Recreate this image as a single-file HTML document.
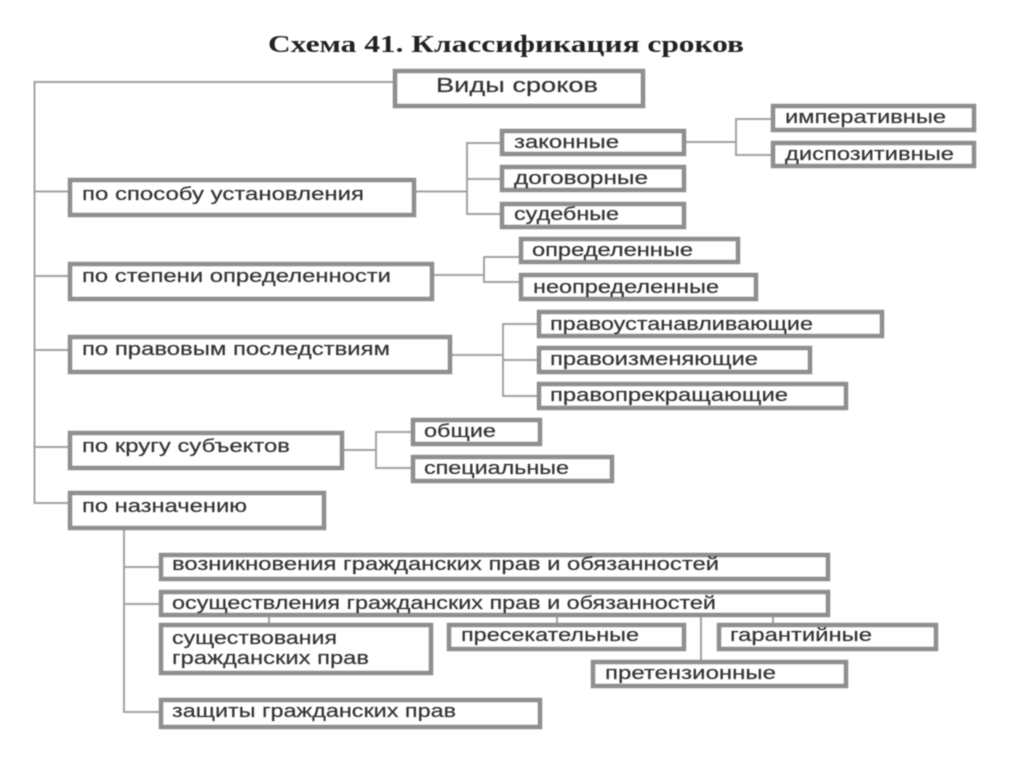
<!DOCTYPE html>
<html lang="ru">
<head>
<meta charset="utf-8">
<title>Схема 41. Классификация сроков</title>
<style>
html,body{margin:0;padding:0;background:#fff;width:1024px;height:767px;overflow:hidden}
svg{display:block}
.b{fill:#fff;stroke:#8f8f8f;stroke-width:4.5}
.c{fill:none;stroke:#a3a3a3;stroke-width:2}
text{font-family:"Liberation Sans",sans-serif;font-size:18px;fill:#333;stroke:#333;stroke-width:.2}
.t{font-family:"Liberation Serif",serif;font-size:24px;font-weight:bold;fill:#222;stroke:none}
</style>
</head>
<body>
<svg width="1024" height="767" viewBox="0 0 1024 767" xmlns="http://www.w3.org/2000/svg">
<g style="filter:blur(.45px)">
<g class="c">
<path d="M393 82H34.500V503H68M34.500 191.500H68M34.500 276H68M34.500 350H68M34.500 447H68"/>
<path d="M416 191.500H467M500 143H467V214H500M467 179H500"/>
<path d="M686 142H736M771 119H736V155H771"/>
<path d="M434 275H484M519 257H484V282H519"/>
<path d="M452 355H503M537 324H503V396H537M503 360H537"/>
<path d="M344 450H376M411 432H376V468H411"/>
<path d="M124 530V712H159M124 567H159M124 604H159"/>
<path d="M269 617V623M557 617V623M773 617V623M701 617V660"/>
</g>
<g class="b">
<rect x="395" y="71" width="248" height="35"/>
<rect x="70" y="180" width="344" height="35"/>
<rect x="70" y="264" width="362" height="35"/>
<rect x="70" y="337" width="380" height="35"/>
<rect x="70" y="433" width="272" height="35"/>
<rect x="70" y="493" width="254" height="35"/>
<rect x="502" y="131" width="182" height="23"/>
<rect x="502" y="167" width="182" height="23"/>
<rect x="502" y="204" width="182" height="23"/>
<rect x="773" y="106" width="201" height="24"/>
<rect x="773" y="143" width="201" height="23"/>
<rect x="521" y="239" width="217" height="23"/>
<rect x="521" y="275" width="235" height="24"/>
<rect x="539" y="312" width="343" height="24"/>
<rect x="539" y="348" width="271" height="24"/>
<rect x="539" y="384" width="307" height="24"/>
<rect x="413" y="420" width="127" height="24"/>
<rect x="413" y="457" width="199" height="24"/>
<rect x="161" y="555" width="667" height="24"/>
<rect x="161" y="592" width="667" height="23"/>
<rect x="161" y="625" width="270" height="48"/>
<rect x="449" y="625" width="235" height="24"/>
<rect x="719" y="625" width="217" height="24"/>
<rect x="593" y="662" width="253" height="24"/>
<rect x="161" y="700" width="379" height="27"/>
</g>
<text class="t" x="268" y="52" textLength="476" lengthAdjust="spacingAndGlyphs">Схема 41. Классификация сроков</text>
<text x="436" y="92" textLength="162" lengthAdjust="spacingAndGlyphs" style="font-size:20px">Виды сроков</text>
<text x="82" y="200" textLength="282" lengthAdjust="spacingAndGlyphs">по способу  установления</text>
<text x="82" y="282" textLength="309" lengthAdjust="spacingAndGlyphs">по степени  определенности</text>
<text x="82" y="355" textLength="308" lengthAdjust="spacingAndGlyphs">по правовым  последствиям</text>
<text x="82" y="452" textLength="208" lengthAdjust="spacingAndGlyphs">по кругу субъектов</text>
<text x="82" y="512" textLength="165" lengthAdjust="spacingAndGlyphs">по назначению</text>
<text x="514" y="148" textLength="105" lengthAdjust="spacingAndGlyphs">законные</text>
<text x="514" y="184" textLength="134" lengthAdjust="spacingAndGlyphs">договорные</text>
<text x="514" y="220" textLength="105" lengthAdjust="spacingAndGlyphs">судебные</text>
<text x="785" y="123" textLength="161" lengthAdjust="spacingAndGlyphs">императивные</text>
<text x="785" y="160" textLength="169" lengthAdjust="spacingAndGlyphs">диспозитивные</text>
<text x="532" y="256" textLength="161" lengthAdjust="spacingAndGlyphs">определенные</text>
<text x="533" y="293" textLength="186" lengthAdjust="spacingAndGlyphs">неопределенные</text>
<text x="550" y="330" textLength="263" lengthAdjust="spacingAndGlyphs">правоустанавливающие</text>
<text x="550" y="365" textLength="208" lengthAdjust="spacingAndGlyphs">правоизменяющие</text>
<text x="550" y="401" textLength="238" lengthAdjust="spacingAndGlyphs">правопрекращающие</text>
<text x="424" y="437" textLength="72" lengthAdjust="spacingAndGlyphs">общие</text>
<text x="424" y="474" textLength="145" lengthAdjust="spacingAndGlyphs">специальные</text>
<text x="172" y="570" textLength="547" lengthAdjust="spacingAndGlyphs">возникновения гражданских прав и обязанностей</text>
<text x="172" y="609" textLength="544" lengthAdjust="spacingAndGlyphs">осуществления гражданских прав и обязанностей</text>
<text x="172" y="644" textLength="165" lengthAdjust="spacingAndGlyphs">существования</text>
<text x="172" y="664" textLength="197" lengthAdjust="spacingAndGlyphs">гражданских прав</text>
<text x="461" y="641" textLength="178" lengthAdjust="spacingAndGlyphs">пресекательные</text>
<text x="730" y="641" textLength="142" lengthAdjust="spacingAndGlyphs">гарантийные</text>
<text x="605" y="679" textLength="171" lengthAdjust="spacingAndGlyphs">претензионные</text>
<text x="172" y="717" textLength="284" lengthAdjust="spacingAndGlyphs">защиты гражданских прав</text>
</g>
</svg>
</body>
</html>
